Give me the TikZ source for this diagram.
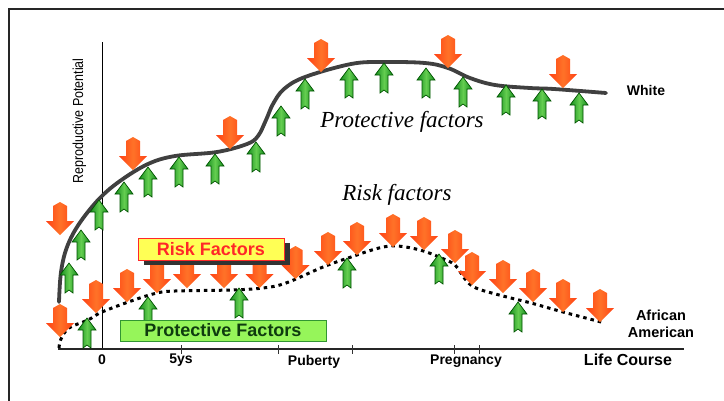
\documentclass[tikz,border=0pt]{standalone}
\usepackage{fontspec}
\setmainfont{Liberation Sans}
\newfontfamily\serifit{Liberation Serif}
\definecolor{rdark}{RGB}{255,65,20}
\definecolor{rlight}{RGB}{255,115,40}
\definecolor{gdark}{RGB}{0,85,0}
\definecolor{gfill}{RGB}{20,140,30}
\definecolor{glight}{RGB}{100,205,80}
\definecolor{curvegray}{RGB}{64,64,64}
\definecolor{boxyellow}{RGB}{255,255,85}
\definecolor{boxred}{RGB}{255,40,40}
\definecolor{boxgreen}{RGB}{150,245,90}
\definecolor{boxgreenedge}{RGB}{50,150,50}
\definecolor{txtgreen}{RGB}{15,60,15}
\begin{document}
\begin{tikzpicture}[x=1pt,y=-1pt,
  lab/.style={font=\bfseries\fontsize{14}{16}\selectfont, inner sep=0pt, align=center},
  ital/.style={font=\serifit\itshape\fontsize{23}{26}\selectfont, inner sep=0pt},
  redarr/.pic={\shade[left color=rdark, right color=rdark, middle color=rlight]
     (0,0) -- (-14,-14) -- (-7,-14) -- (-7,-29) -- (0,-33) -- (7,-29) -- (7,-14) -- (14,-14) -- cycle;},
  grnarr/.pic={\shade[draw=gdark, line width=0.7pt, left color=gfill, right color=gfill, middle color=glight]
     (0,0) -- (-9,12) -- (-4,12) -- (-4,30) -- (0,27) -- (4,30) -- (4,12) -- (9,12) -- cycle;},
  axisline/.style={line width=1.4pt, draw=black!85},
  tick/.style={line width=0.9pt, draw=black!80}
]
\useasboundingbox (0,0) rectangle (724,400);
\fill[white] (0,0) rectangle (724,400);
% frame
\draw[line width=2pt, black!85] (9,410) -- (9,9) -- (730,9);

% axes
\draw[line width=1.1pt] (102.5,42) -- (102.5,349);
\coordinate (xs) at (58,349);
\coordinate (xe) at (684,349);
\draw[axisline] (xs) -- (xe);
\foreach \tx in {181,278.5,352,454.5,479}
  \draw[tick] (\tx,345) -- (\tx,354);

% curves
\draw[line width=3.8pt, curvegray, line cap=round] plot[smooth, tension=0.6] coordinates {
 (59,302) (61,272) (67,247) (79,224) (99,199) (120,181) (148,164) (175,156) (217,152)
 (247,144) (258,136) (266,120) (273,104) (284,89) (305,77) (351,64) (383,62) (425,63)
 (448,68) (470,78) (495,85) (530,88) (554,89) (606,93)};
\draw[line width=3pt, black, dash pattern=on 3.5pt off 4pt] plot[smooth, tension=0.6] coordinates {
 (59,348) (61,339) (69,328) (88,320) (102,312) (134,300) (157,293) (175,291) (231,290)
 (263,288) (286,283) (323,267) (351,257) (379,248) (397,246) (420,250) (439,257) (455,265)
 (465,279) (476,288) (503,296) (531,303) (563,312) (605,323)};

% green arrows
\foreach \gx/\gy in {69/263,81/230,99/200,124/182,148/167,179/157,215/154,256/142,281/106,
  305/79,349/68,384/63,426/68,463/77,506/85,542/89,579/93,
  87/318,148/297,239/288,347/258,439/254,518/302}
  \pic at (\gx,\gy) {grnarr};

% red arrows
\foreach \rx/\ry in {60/235,133/170,230/149,321/72,448/68,563/88,
  60/337,96/313,127/302,157/293,187/288,224/288,259.5/288,295.5/279,328/265,357/255,
  393/247,424/250,455/263,472/285,503/293,533/302,563/312,600/322}
  \pic at (\rx,\ry) {redarr};

% legend boxes
\fill[black!80] (144,243) rectangle (290,265);
\node[draw=boxred, line width=1pt, fill=boxyellow, minimum width=146pt, minimum height=22pt,
  inner sep=0pt, text=boxred, font=\bfseries\fontsize{18}{20}\selectfont] (riskbox) at (211,249) {Risk Factors};
\node[draw=boxgreenedge, line width=1pt, fill=boxgreen, minimum width=206pt, minimum height=21pt,
  inner sep=0pt, text=txtgreen, font=\bfseries\fontsize{18}{20}\selectfont] (protbox) at (223,330.5) {Protective Factors};

% texts
\node[ital] (protf) at (402,122) {Protective factors};
\node[ital] (riskf) at (397,195) {Risk factors};
\node[font=\fontsize{14.5}{16}\selectfont, rotate=90, inner sep=0pt] (ylab) at (79.5,121) {\scalebox{0.86}[1]{Reproductive Potential}};
\node[lab] (white) at (646,90) {White};
\node[lab, font=\bfseries\fontsize{14.5}{17}\selectfont] (afam) at (661,324) {African\\American};
\node[lab] (l0) at (102,360) {0};
\node[lab] (l5) at (181,360) {5ys};
\node[lab] (lpub) at (314,362) {Puberty};
\node[lab] (lpreg) at (466,361) {Pregnancy};
\node[lab, font=\bfseries\fontsize{16}{18}\selectfont] (llife) at (628,360) {Life Course};
\end{tikzpicture}
\end{document}
